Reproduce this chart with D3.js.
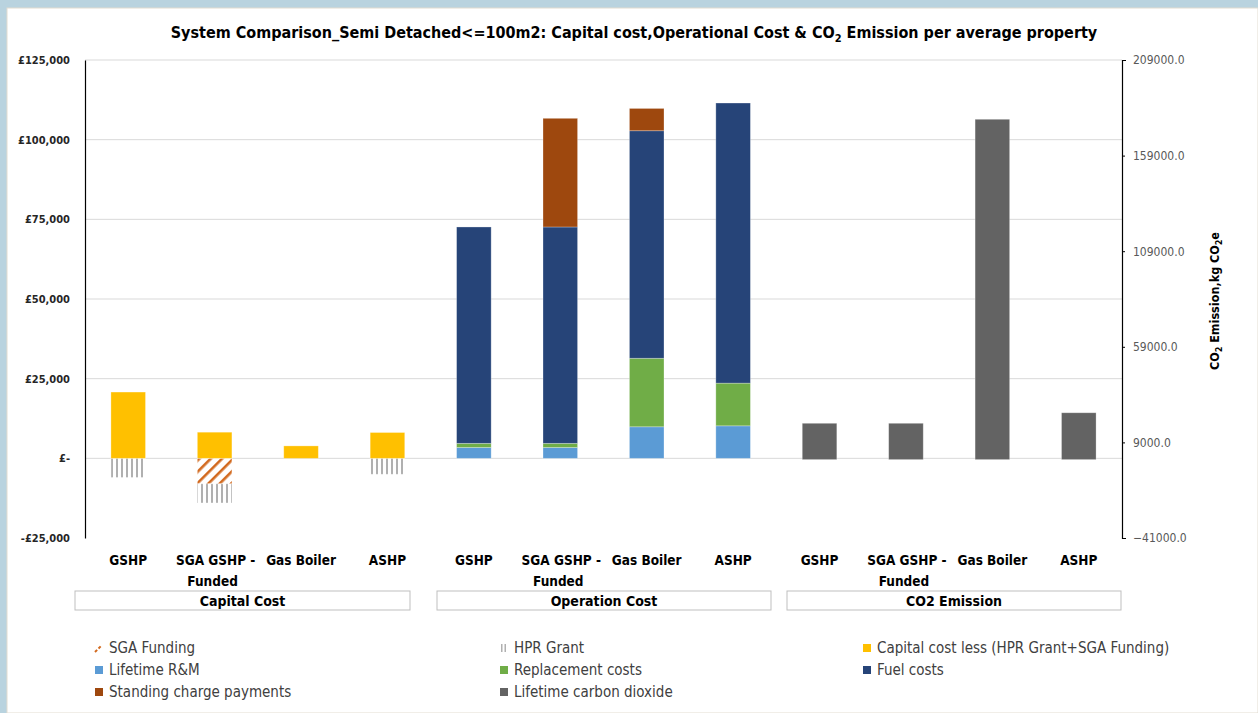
<!DOCTYPE html>
<html>
<head>
<meta charset="utf-8">
<script src="https://cdn.jsdelivr.net/npm/d3@7"></script>
<style>
  body { margin: 0; background: #b9d3df; }
  svg { display: block; }
  .bold { font-family: "Liberation Sans Narrow", "DejaVu Sans Condensed", sans-serif; font-weight: bold; }
  .reg { font-family: "Liberation Sans Narrow", "DejaVu Sans Condensed", sans-serif; }
</style>
</head>
<body>
<div id="vis"></div>
<script>
// categories and groups
var systems = ["GSHP", "SGA GSHP - Funded", "Gas Boiler", "ASHP"],
    groups = ["Capital Cost", "Operation Cost", "CO2 Emission"];

// capital cost (£)
var capitalLess = [20800, 8200, 3900, 8100],
    sgaFunding = [0, -8000, 0, 0],
    hprGrant = [-6000, -6000, 0, -5000];

// operation cost (£)
var lifetimeRM = [3400, 3400, 9900, 10200],
    replacement = [1300, 1300, 21500, 13400],
    fuelCosts = [67900, 67900, 71400, 87900],
    standingCharge = [0, 34100, 7000, 0];

// CO2 emission (kg CO2e)
var co2 = [19000, 19000, 178000, 24500];

var leftTicks = [-25000, 0, 25000, 50000, 75000, 100000, 125000],
    rightTicks = [-41000, 9000, 59000, 109000, 159000, 209000];

var series = [
  {key: "sga", name: "SGA Funding", fill: "url(#hatchSga)", swatch: "sga"},
  {key: "hpr", name: "HPR Grant", fill: "url(#hatchHpr)", swatch: "hpr"},
  {key: "cap", name: "Capital cost less (HPR Grant+SGA Funding)", fill: "#ffc000"},
  {key: "rm", name: "Lifetime R&M", fill: "#5b9bd5"},
  {key: "rep", name: "Replacement costs", fill: "#70ad47"},
  {key: "fuel", name: "Fuel costs", fill: "#264478"},
  {key: "stand", name: "Standing charge payments", fill: "#9e480e"},
  {key: "co2", name: "Lifetime carbon dioxide", fill: "#636363"}
];

// one row per bar slot (12 slots)
var rows = [];
groups.forEach(function(g, gi) {
  systems.forEach(function(s, si) {
    var r = {id: gi + "-" + si, group: g, system: s,
      sga: 0, hpr: 0, cap: 0, rm: 0, rep: 0, fuel: 0, stand: 0, co2: 0};
    if (gi === 0) { r.sga = sgaFunding[si]; r.hpr = hprGrant[si]; r.cap = capitalLess[si]; }
    if (gi === 1) { r.rm = lifetimeRM[si]; r.rep = replacement[si]; r.fuel = fuelCosts[si]; r.stand = standingCharge[si]; }
    if (gi === 2) { r.co2 = co2[si]; }
    rows.push(r);
  });
});

var W = 1258, H = 713,
    mL = 85, mR = 1122, mT = 60, mB = 538;

var x = d3.scaleBand().domain(rows.map(function(d) { return d.id; }))
    .range([mL, mR]).paddingInner(0.6).paddingOuter(0.3);
var y = d3.scaleLinear().domain([-25000, 125000]).range([mB, mT]);
var y2 = d3.scaleLinear().domain([-41000, 209000]).range([mB, mT]);

var svg = d3.select("#vis").append("svg").attr("width", W).attr("height", H);

var defs = svg.append("defs");
var pS = defs.append("pattern").attr("id", "hatchSga").attr("patternUnits", "userSpaceOnUse")
    .attr("width", 8).attr("height", 8).attr("patternTransform", "rotate(45)");
pS.append("rect").attr("width", 8).attr("height", 8).attr("fill", "#fff");
pS.append("rect").attr("x", 0).attr("width", 2.6).attr("height", 8).attr("fill", "#d2691e");
var pH = defs.append("pattern").attr("id", "hatchHpr").attr("patternUnits", "userSpaceOnUse")
    .attr("width", 5).attr("height", 5);
pH.append("rect").attr("width", 5).attr("height", 5).attr("fill", "#fff");
pH.append("rect").attr("x", 1).attr("width", 2).attr("height", 5).attr("fill", "#b0b0b0");

// white chart panel on blue frame
svg.append("rect").attr("x", 7).attr("y", 8).attr("width", W - 7).attr("height", H - 8)
    .attr("fill", "#fff").attr("stroke", "#e2dcd0").attr("stroke-width", 1);

// title
var title = svg.append("text").attr("class", "bold").attr("x", 634).attr("y", 38)
    .attr("text-anchor", "middle").attr("font-size", 16).attr("fill", "#000");
title.append("tspan").text("System Comparison_Semi Detached<=100m2: Capital cost,Operational Cost & CO");
title.append("tspan").attr("font-size", 11).attr("dy", 4).text("2");
title.append("tspan").attr("dy", -4).text(" Emission per average property");

// gridlines
svg.append("g").selectAll("line").data(leftTicks.filter(function(t) { return t > -25000; }))
  .enter().append("line")
    .attr("x1", mL).attr("x2", mR)
    .attr("y1", function(d) { return y(d); }).attr("y2", function(d) { return y(d); })
    .attr("stroke", "#d9d9d9").attr("stroke-width", 1);

// stacked cost bars
var stack = d3.stack()
    .keys(["sga", "hpr", "cap", "rm", "rep", "fuel", "stand"])
    .offset(d3.stackOffsetDiverging);
var stacked = stack(rows);
var fillOf = {};
series.forEach(function(s) { fillOf[s.key] = s.fill; });

svg.append("g").selectAll("g").data(stacked).enter().append("g")
    .attr("fill", function(d) { return fillOf[d.key]; })
  .selectAll("rect").data(function(d) { return d.filter(function(p) { return p[1] - p[0] !== 0; }); })
  .enter().append("rect")
    .attr("x", function(d) { return x(d.data.id); })
    .attr("width", x.bandwidth())
    .attr("y", function(d) { return y(Math.max(d[0], d[1])); })
    .attr("height", function(d) { return Math.abs(y(d[0]) - y(d[1])); })
    .attr("stroke", "rgba(255,255,255,0.35)").attr("stroke-width", 0.8);

// CO2 bars on secondary axis
svg.append("g").selectAll("rect").data(rows.filter(function(d) { return d.co2 > 0; }))
  .enter().append("rect")
    .attr("x", function(d) { return x(d.id); })
    .attr("width", x.bandwidth())
    .attr("y", function(d) { return y2(d.co2); })
    .attr("height", function(d) { return y2(0) - y2(d.co2); })
    .attr("fill", fillOf.co2)
    .attr("stroke", "rgba(255,255,255,0.35)").attr("stroke-width", 0.8);

// left axis
var fmtL = function(v) {
  if (v === 0) return "£-";
  return (v < 0 ? "-" : "") + "£" + d3.format(",")(Math.abs(v));
};
var gl = svg.append("g").attr("transform", "translate(" + mL + ",0)")
    .call(d3.axisLeft(y).tickValues(leftTicks).tickFormat(fmtL).tickSize(0).tickPadding(15));
gl.select(".domain").attr("stroke", "#000").attr("stroke-width", 1.2);
gl.selectAll("text").attr("class", "bold").attr("font-size", 11).attr("fill", "#262626");

// right axis
var gr = svg.append("g").attr("transform", "translate(" + mR + ",0)")
    .call(d3.axisRight(y2).tickValues(rightTicks).tickFormat(d3.format(".1f")).tickSizeInner(3).tickSizeOuter(4).tickPadding(8));
gr.select(".domain").attr("stroke", "#000").attr("stroke-width", 1.2);
gr.selectAll(".tick line").attr("stroke", "#000");
gr.selectAll("text").attr("class", "reg").attr("font-size", 12).attr("fill", "#595959");

// right axis title
var rt = svg.append("text").attr("class", "bold").attr("font-size", 12.5).attr("fill", "#000")
    .attr("text-anchor", "middle")
    .attr("transform", "translate(1219,301) rotate(-90)");
rt.append("tspan").text("CO");
rt.append("tspan").attr("font-size", 8.5).attr("dy", 3).text("2");
rt.append("tspan").attr("dy", -3).text(" Emission,kg CO");
rt.append("tspan").attr("font-size", 8.5).attr("dy", 3).text("2");
rt.append("tspan").attr("dy", -3).text("e");

// category labels
var cat = svg.append("g").selectAll("text").data(rows).enter().append("text")
    .attr("class", "bold").attr("font-size", 13.5).attr("fill", "#000")
    .attr("text-anchor", "middle")
    .attr("x", function(d) { return x(d.id) + x.bandwidth() / 2; })
    .attr("y", 565);
cat.each(function(d) {
  var t = d3.select(this);
  if (d.system === "SGA GSHP - Funded") {
    t.append("tspan").attr("x", x(d.id) + x.bandwidth() / 2 + 1).text("SGA GSHP -");
    t.append("tspan").attr("x", x(d.id) + x.bandwidth() / 2 - 2).attr("dy", 21).text("Funded");
  } else {
    t.text(d.system);
  }
});

// group boxes
var boxes = [[75, 410], [437, 771], [787, 1121]];
groups.forEach(function(g, gi) {
  var x0 = boxes[gi][0], x1 = boxes[gi][1];
  svg.append("rect").attr("x", x0).attr("y", 591).attr("width", x1 - x0).attr("height", 19)
      .attr("fill", "#fff").attr("stroke", "#bfbfbf").attr("stroke-width", 1);
  svg.append("text").attr("class", "bold").attr("font-size", 14).attr("fill", "#000")
      .attr("text-anchor", "middle").attr("x", (x0 + x1) / 2).attr("y", 606).text(g);
});

// legend
var legCols = [95, 500, 863], legRows = [648, 670, 692];
var leg = svg.append("g").selectAll("g").data(series).enter().append("g")
    .attr("transform", function(d, i) {
      return "translate(" + legCols[i % 3] + "," + legRows[Math.floor(i / 3)] + ")";
    });
leg.each(function(d) {
  var g = d3.select(this);
  if (d.swatch === "sga") {
    g.append("line").attr("x1", 0).attr("y1", 4).attr("x2", 7).attr("y2", -3)
        .attr("stroke", "#d2691e").attr("stroke-width", 2).attr("stroke-dasharray", "3,2");
  } else if (d.swatch === "hpr") {
    g.append("rect").attr("x", 1).attr("y", -4).attr("width", 1.5).attr("height", 8).attr("fill", "#b0b0b0");
    g.append("rect").attr("x", 4.5).attr("y", -4).attr("width", 1.5).attr("height", 8).attr("fill", "#b0b0b0");
  } else {
    g.append("rect").attr("x", 0).attr("y", -4).attr("width", 8).attr("height", 8).attr("fill", d.fill);
  }
  g.append("text").attr("class", "reg").attr("x", 14).attr("y", 5)
      .attr("font-size", 15).attr("fill", "#404040").text(d.name);
});
</script>
</body>
</html>
